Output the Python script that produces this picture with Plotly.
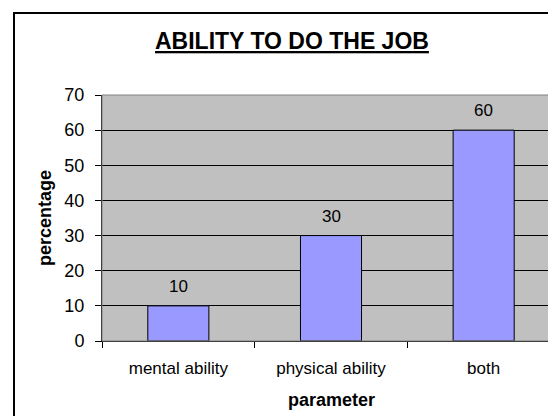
import plotly.graph_objects as go

categories = ["mental ability", "physical ability", "both"]
values = [10, 30, 60]
y_ticks = [0, 10, 20, 30, 40, 50, 60, 70]

W, H = 556, 416
L, R, T, B = 94, 4, 87, 83
pw, ph = W - L - R, H - T - B
FONT = "Arial, Liberation Sans, sans-serif"

def px_x(x):
    return (x - L) / pw

def px_y(y):
    return (H - B - y) / ph

fig = go.Figure(go.Bar(
    x=categories, y=values, width=0.4,
    marker=dict(color="#9999ff", line=dict(color="#000000", width=1)),
))

for c, v in zip(categories, values):
    fig.add_annotation(x=c, y=v, text=str(v), showarrow=False,
                       yanchor="bottom", yshift=8,
                       font=dict(family=FONT, size=17, color="#000"))

fig.add_annotation(xref="paper", yref="paper", x=px_x(284), y=px_y(33),
                   text="<u>ABILITY TO DO THE JOB</u>", showarrow=False,
                   xanchor="center", yanchor="middle",
                   font=dict(family=FONT, size=23, color="#000", weight="bold"))
fig.add_annotation(xref="paper", yref="paper", x=px_x(37), y=0.5,
                   text="<b>percentage</b>", textangle=-90, showarrow=False,
                   xanchor="center", yanchor="middle",
                   font=dict(family=FONT, size=18, color="#000"))
fig.add_annotation(xref="paper", yref="paper", x=0.5, y=px_y(392),
                   text="<b>parameter</b>", showarrow=False,
                   xanchor="center", yanchor="middle",
                   font=dict(family=FONT, size=18, color="#000"))

# plot-area border (gray)
fig.add_shape(type="rect", xref="paper", yref="paper", x0=0, x1=1, y0=0, y1=1,
              line=dict(color="#808080", width=1), layer="above")
# outer chart frame
fig.add_shape(type="rect", xref="paper", yref="paper",
              x0=px_x(6), x1=px_x(W + 10), y0=px_y(H + 10), y1=px_y(5),
              line=dict(color="#000000", width=2), layer="above")

fig.update_layout(
    width=W, height=H,
    margin=dict(l=L, r=R, t=T, b=B),
    paper_bgcolor="#ffffff", plot_bgcolor="#c0c0c0",
    showlegend=False, bargap=0.6,
    font=dict(family=FONT, size=17, color="#000"),
)
fig.update_xaxes(showline=True, linecolor="#000", linewidth=1,
                 ticks="outside", tickson="boundaries", ticklen=6,
                 tickcolor="#000", showgrid=False, ticklabelstandoff=12,
                 tickfont=dict(size=17, family=FONT, color="#000"))
fig.update_yaxes(range=[0, 70], tickvals=y_ticks, showline=True,
                 linecolor="#000", linewidth=1, ticks="outside", ticklen=6,
                 tickcolor="#000", showgrid=True, gridcolor="#000",
                 gridwidth=1, zeroline=False, ticklabelstandoff=7,
                 tickfont=dict(size=18, family=FONT, color="#000"))

fig.write_html("out.html")
